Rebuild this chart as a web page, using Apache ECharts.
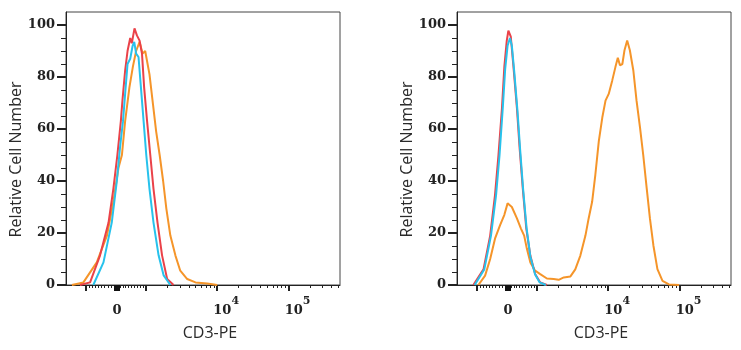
<!DOCTYPE html>
<html>
<head>
<meta charset="utf-8">
<script src="https://cdn.jsdelivr.net/npm/echarts@6/dist/echarts.min.js"></script>
<style>
  html, body { margin: 0; padding: 0; background: #fff; }
  #main { width: 741px; height: 350px; }
</style>
</head>
<body>
<div id="main"></div>
<script>
// x = display channel (0..1024 across the plot, biexponential scale), y = relative cell number
const leftOrange = [[22,0],[65,1],[115,8.7],[153,19],[177,32],[196,45],[209,50],[221,63],[237,76],[250,84],[262,90],[275,93.5],[286,89],[296,90],[303,89.6],[312,81],[325,69.6],[337,59],[350,50],[363,40],[375,29.4],[390,19],[409,11.3],[427,5.5],[453,2.3],[484,1],[528,0.6],[565,0]];
const leftRed = [[52,0],[90,1],[127,11.3],[159,24],[177,37],[192,50],[205,63],[211,71],[221,82.5],[230,90],[240,95],[246,93],[256,98.7],[265,96],[275,94],[284,89],[292,76],[303,63],[315,50],[327,37],[342,24],[359,11.4],[378,2.3],[402,0]];
const leftBlue = [[102,0],[140,8.7],[171,24],[190,40],[202,53],[213,63],[221,73.5],[230,85],[240,87],[249,92],[255,93.5],[262,89],[271,87.7],[280,76],[290,63],[300,50],[312,37],[327,24],[346,11.4],[365,3.7],[390,0]];

const rightOrange = [[80,0],[105,3.6],[124,10],[142,17.8],[161,23],[177,27],[189,31.4],[196,32],[205,30],[224,25.6],[239,21.7],[251,19],[261,14],[274,8.7],[292,5.5],[311,4.2],[336,2.5],[361,2.3],[380,2],[399,2.9],[424,3.3],[442,6],[461,11.3],[480,19],[492,25.6],[505,32],[517,42.4],[530,55.3],[543,64.4],[555,70.9],[567,73.5],[580,78.6],[592,83.8],[601,87.4],[609,84.5],[618,85],[626,90.3],[636,94],[646,90.3],[659,82.5],[671,70.9],[684,60.5],[696,50],[709,37.2],[721,25.6],[734,15.2],[749,6.1],[768,1.6],[792,0.2],[830,0]];
const rightRed = [[61,0],[99,6],[124,19],[142,34.6],[155,50],[168,68],[177,84],[186,94],[192,97.8],[201,95.5],[211,84],[224,68],[234,52.7],[246,37],[259,21.7],[274,11.3],[292,4.2],[311,1],[336,0]];
const rightBlue = [[66,0],[102,6],[127,19],[146,34.6],[159,50],[171,68],[180,83],[189,92],[198,95],[205,92],[214,82],[226,67],[236,52],[247,37],[260,22],[274,11],[292,4],[309,1],[332,0]];

const yLabels = [0, 20, 40, 60, 80, 100];
const xMajor = [-1000, 0, 1000, 10000, 100000];
const xLabelValues = [0, 10000, 100000];
const xLabelExp = ['', '4', '5'];

const colors = { orange: '#f5952a', red: '#ea4249', blue: '#27c2ec' };

// channel of a fluorescence value on the display scale
function chan(v) {
  if (v >= 1000) return 298 + 267 * Math.log10(v / 1000);
  if (v <= -1000) return 75 - 267 * Math.log10(-v / 1000);
  if (v >= 0) return 191 + v / 1000 * 107;
  return 191 + v / 1000 * 116;
}

const minorVals = [];
for (let k = 1; k <= 9; k++) { minorVals.push(k * 100, -k * 100); }
for (let m = 2; m <= 9; m++) { minorVals.push(m * 1000, m * 10000, m * 100000); }
const xMinor = minorVals.map(chan).filter(c => c > 0 && c < 1024);
const yMinor = [];
for (let v = 5; v < 105; v += 5) { if (v % 20 !== 0) yMinor.push(v); }

const serif = 'DejaVu Serif';
const rich = {
  zero: { fontFamily: serif, fontWeight: 'bold', fontSize: 13, color: '#222', lineHeight: 16, padding: [6, 0, 0, 0], verticalAlign: 'bottom' },
  ten: { fontFamily: serif, fontWeight: 'bold', fontSize: 13, color: '#222', lineHeight: 16, padding: [0, 0, 0, 18], verticalAlign: 'bottom' },
  pow: { fontFamily: serif, fontWeight: 'bold', fontSize: 11, color: '#222', lineHeight: 12, padding: [0, 0, 10, 0], verticalAlign: 'bottom' }
};

function xLabel(value) {
  for (let i = 0; i < xLabelValues.length; i++) {
    if (Math.abs(chan(xLabelValues[i]) - value) < 0.5) {
      return xLabelExp[i] ? '{ten|10}{pow|' + xLabelExp[i] + '}' : '{zero|0}';
    }
  }
  return '';
}

const grids = [], xAxes = [], yAxes = [], series = [];

function addPanel(gi, left, traces) {
  grids.push({ left: left, top: 12, width: 274, height: 273, show: true, borderColor: '#444', borderWidth: 1 });
  const base = { type: 'value', gridIndex: gi, min: 0, max: 1024, position: 'bottom', splitLine: { show: false } };
  xAxes.push(Object.assign({}, base, {
    name: 'CD3-PE', nameLocation: 'middle', nameGap: 40,
    nameTextStyle: { fontFamily: 'Open Sans', fontSize: 16, color: '#2a2a2a', padding: [0, 0, 0, 14] },
    axisLine: { onZero: false, lineStyle: { color: '#222', width: 1 } },
    axisTick: { customValues: xMajor.map(chan), length: 6, lineStyle: { color: '#222', width: 2 } },
    axisLabel: { customValues: xLabelValues.map(chan), margin: 16, formatter: xLabel, rich: rich }
  }));
  xAxes.push(Object.assign({}, base, {
    axisLine: { show: false },
    axisTick: { customValues: xMinor, length: 3, lineStyle: { color: '#222', width: 1 } },
    axisLabel: { show: false }
  }));
  xAxes.push(Object.assign({}, base, {
    axisLine: { show: false },
    axisTick: { customValues: [chan(0)], length: 6, lineStyle: { color: '#111', width: 6 } },
    axisLabel: { show: false }
  }));
  const ybase = { type: 'value', gridIndex: gi, min: 0, max: 105, position: 'left', splitLine: { show: false } };
  yAxes.push(Object.assign({}, ybase, {
    name: 'Relative Cell Number', nameLocation: 'middle', nameGap: 38,
    nameTextStyle: { fontFamily: 'Open Sans', fontSize: 16, color: '#2a2a2a', padding: [0, 22, 0, 0] },
    axisLine: { onZero: false, lineStyle: { color: '#222', width: 1 } },
    axisTick: { customValues: yLabels, length: 9, lineStyle: { color: '#222', width: 2 } },
    axisLabel: { customValues: yLabels, margin: 11, fontFamily: serif, fontWeight: 'bold', fontSize: 13, color: '#222' }
  }));
  yAxes.push(Object.assign({}, ybase, {
    axisLine: { show: false },
    axisTick: { customValues: yMinor, length: 5, lineStyle: { color: '#222', width: 1 } },
    axisLabel: { show: false }
  }));
  traces.forEach(t => {
    series.push({
      type: 'line', xAxisIndex: gi * 3, yAxisIndex: gi * 2, data: t.data,
      showSymbol: false, symbol: 'none', smooth: false, silent: true,
      lineStyle: { color: t.color, width: 2 }
    });
  });
}

addPanel(0, 66, [
  { data: leftOrange, color: colors.orange },
  { data: leftRed, color: colors.red },
  { data: leftBlue, color: colors.blue }
]);
addPanel(1, 457, [
  { data: rightOrange, color: colors.orange },
  { data: rightRed, color: colors.red },
  { data: rightBlue, color: colors.blue }
]);

const chart = echarts.init(document.getElementById('main'), null, { renderer: 'canvas' });
chart.setOption({
  animation: false,
  backgroundColor: '#fff',
  grid: grids,
  xAxis: xAxes,
  yAxis: yAxes,
  series: series
});
</script>
</body>
</html>
